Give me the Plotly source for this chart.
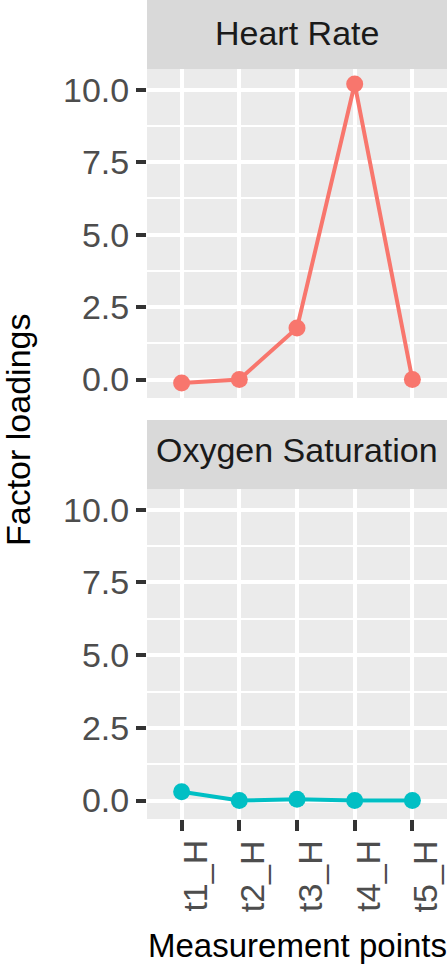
import plotly.graph_objects as go

categories = ["t1_H", "t2_H", "t3_H", "t4_H", "t5_H"]
heart_rate = [-0.12, 0.0, 1.78, 10.2, 0.0]
oxygen_saturation = [0.30, 0.0, 0.04, 0.0, 0.0]
facet_titles = ["Heart Rate", "Oxygen Saturation"]
y_ticks = [0.0, 2.5, 5.0, 7.5, 10.0]

FONT = "Liberation Sans, Arial, Helvetica, sans-serif"
FS = 34
PLOT_H = 819.0

def py(px):
    return 1 - px / PLOT_H

fig = go.Figure()
fig.add_trace(go.Scatter(x=categories, y=heart_rate, mode="lines+markers",
                         line=dict(color="#F8766D", width=4),
                         marker=dict(color="#F8766D", size=17),
                         xaxis="x", yaxis="y", showlegend=False))
fig.add_trace(go.Scatter(x=categories, y=oxygen_saturation, mode="lines+markers",
                         line=dict(color="#00BFC4", width=4),
                         marker=dict(color="#00BFC4", size=17),
                         xaxis="x2", yaxis="y2", showlegend=False))

yax = dict(range=[-0.636, 10.716], tickvals=y_ticks, tickformat=".1f",
           ticks="outside", ticklen=10, tickwidth=4, tickcolor="#333333",
           tickfont=dict(family=FONT, size=FS, color="#4D4D4D"),
           showgrid=True, gridcolor="white", gridwidth=3.5, zeroline=False,
           showline=False, automargin=False, fixedrange=True,
           minor=dict(tickvals=[1.25, 3.75, 6.25, 8.75], showgrid=True,
                      gridcolor="white", gridwidth=1.8, ticks=""))
xax = dict(type="category", categoryorder="array", categoryarray=categories,
           range=[-0.6, 4.6], showgrid=True, gridcolor="white", gridwidth=3.5,
           zeroline=False, showline=False, automargin=False, fixedrange=True)

fig.update_layout(
    width=447, height=969,
    margin=dict(l=147, r=0, t=0, b=150),
    paper_bgcolor="white", plot_bgcolor="#EBEBEB",
    font=dict(family=FONT, size=FS),
    xaxis=dict(**xax, domain=[0, 1], anchor="y", showticklabels=False, ticks=""),
    yaxis=dict(**yax, domain=[py(398), py(69)], anchor="x"),
    xaxis2=dict(**xax, domain=[0, 1], anchor="y2", ticks="outside", ticklen=11,
                tickwidth=4, tickcolor="#333333", showticklabels=False),
    yaxis2=dict(**yax, domain=[0, py(489)], anchor="x2"),
)

# x tick labels (rotated) placed through the x2 axis
for cat in categories:
    fig.add_annotation(text=cat, xref="x2", yref="paper", x=cat, y=py(838),
                       textangle=-90, showarrow=False, xanchor="center",
                       yanchor="top", xshift=13,
                       font=dict(family=FONT, size=FS, color="#4D4D4D"))

# strips
fig.add_shape(type="rect", xref="paper", yref="paper", x0=0, x1=1,
              y0=py(69), y1=1, fillcolor="#D9D9D9", line_width=0, layer="below")
fig.add_shape(type="rect", xref="paper", yref="paper", x0=0, x1=1,
              y0=py(489), y1=py(420), fillcolor="#D9D9D9", line_width=0, layer="below")
fig.add_annotation(text=facet_titles[0], xref="paper", yref="paper", x=0.5, y=py(33),
                   showarrow=False, font=dict(family=FONT, size=FS, color="#1A1A1A"),
                   xanchor="center", yanchor="middle")
fig.add_annotation(text=facet_titles[1], xref="paper", yref="paper", x=0.5, y=py(450),
                   showarrow=False, font=dict(family=FONT, size=FS, color="#1A1A1A"),
                   xanchor="center", yanchor="middle")

# axis titles
fig.add_annotation(text="Factor loadings", xref="paper", yref="paper",
                   x=(18 - 147) / 300.0, y=py(430), textangle=-90, showarrow=False,
                   font=dict(family=FONT, size=FS, color="black"),
                   xanchor="center", yanchor="middle")
fig.add_annotation(text="Measurement points", xref="paper", yref="paper",
                   x=0.5, y=py(946), showarrow=False,
                   font=dict(family=FONT, size=33, color="black"),
                   xanchor="center", yanchor="middle")

fig.write_html("out.html", config={"displayModeBar": False},
               post_script="document.body.style.margin='0';")
